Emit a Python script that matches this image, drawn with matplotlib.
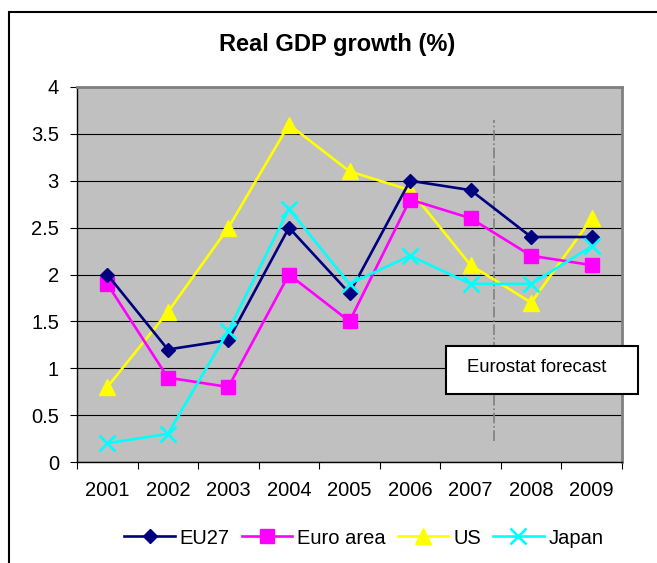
import matplotlib
matplotlib.use('Agg')
import matplotlib.pyplot as plt
from matplotlib.patches import Rectangle

plt.rcParams['font.family'] = ['Liberation Sans', 'DejaVu Sans']

years = ['2001', '2002', '2003', '2004', '2005', '2006', '2007', '2008', '2009']
eu27 = [2.0, 1.2, 1.3, 2.5, 1.8, 3.0, 2.9, 2.4, 2.4]
euro_area = [1.9, 0.9, 0.8, 2.0, 1.5, 2.8, 2.6, 2.2, 2.1]
us = [0.8, 1.6, 2.5, 3.6, 3.1, 2.9, 2.1, 1.7, 2.6]
japan = [0.2, 0.3, 1.4, 2.7, 1.9, 2.2, 1.9, 1.9, 2.3]
y_ticks = [0, 0.5, 1, 1.5, 2, 2.5, 3, 3.5, 4]
y_labels = ['0', '0.5', '1', '1.5', '2', '2.5', '3', '3.5', '4']
forecast_x = 6.39
forecast_y = (0.22, 3.65)

fig = plt.figure(figsize=(6.57, 5.63), dpi=100)
ax = fig.add_axes([77 / 657, 1 - 462 / 563, 545 / 657, 375 / 563])
ax.set_facecolor('#C0C0C0')

x = list(range(len(years)))
ax.plot(x, eu27, color='#000080', lw=1.9, marker='D', ms=7, label='EU27', zorder=5)
ax.plot(x, euro_area, color='#FF00FF', lw=1.9, marker='s', ms=10, label='Euro area', zorder=4)
ax.plot(x, us, color='#FFFF00', lw=1.9, marker='^', ms=12, label='US', zorder=3)
ax.plot(x, japan, color='#00FFFF', lw=1.9, marker='x', ms=11, mew=1.9, label='Japan', zorder=6)

ax.vlines(forecast_x, forecast_y[0], forecast_y[1], colors='#808080', linestyles='-.', lw=1.2, zorder=2)

ax.set_xlim(-0.5, len(years) - 0.5)
ax.set_ylim(0, 4)
ax.set_yticks(y_ticks)
ax.set_yticklabels(y_labels)
ax.yaxis.grid(True, color='black', lw=0.8)
ax.set_axisbelow(True)

ax.set_xticks([i - 0.5 for i in range(len(years) + 1)])
ax.set_xticklabels([])
ax.set_xticks(x, minor=True)
ax.set_xticklabels(years, minor=True)
ax.tick_params(axis='x', which='major', length=5, width=0.8, color='black')
ax.tick_params(axis='x', which='minor', length=0, pad=14, labelsize=14.5)
ax.tick_params(axis='y', length=5, width=0.8, pad=8, labelsize=14.5)

for s in ['left', 'bottom']:
    ax.spines[s].set_color('black')
    ax.spines[s].set_linewidth(1)
for s in ['top', 'right']:
    ax.spines[s].set_color('#808080')
    ax.spines[s].set_linewidth(2)

fig.text(337 / 657, 1 - 45 / 563, 'Real GDP growth (%)', ha='center', va='center',
         fontsize=17, fontweight='bold')

fig.legend(loc='center', bbox_to_anchor=(364 / 657, 1 - 538 / 563), ncol=4, frameon=False,
           fontsize=14.5, handlelength=2.5, handletextpad=0.25, columnspacing=0.6)

# forecast note box
fig.patches.append(Rectangle((446 / 657, 1 - 394 / 563), 192 / 657, 48 / 563,
                             transform=fig.transFigure, facecolor='white',
                             edgecolor='black', lw=1.5, zorder=10))
fig.text(537 / 657, 1 - 368 / 563, 'Eurostat forecast', ha='center', va='center',
         fontsize=13.3, zorder=11)

# outer chart border
fig.patches.append(Rectangle((9 / 657, -0.1), 1.2, 1.1 - 12 / 563,
                             transform=fig.transFigure, fill=False,
                             edgecolor='black', lw=1.5, zorder=0))

fig.savefig('out.png', dpi=100)
